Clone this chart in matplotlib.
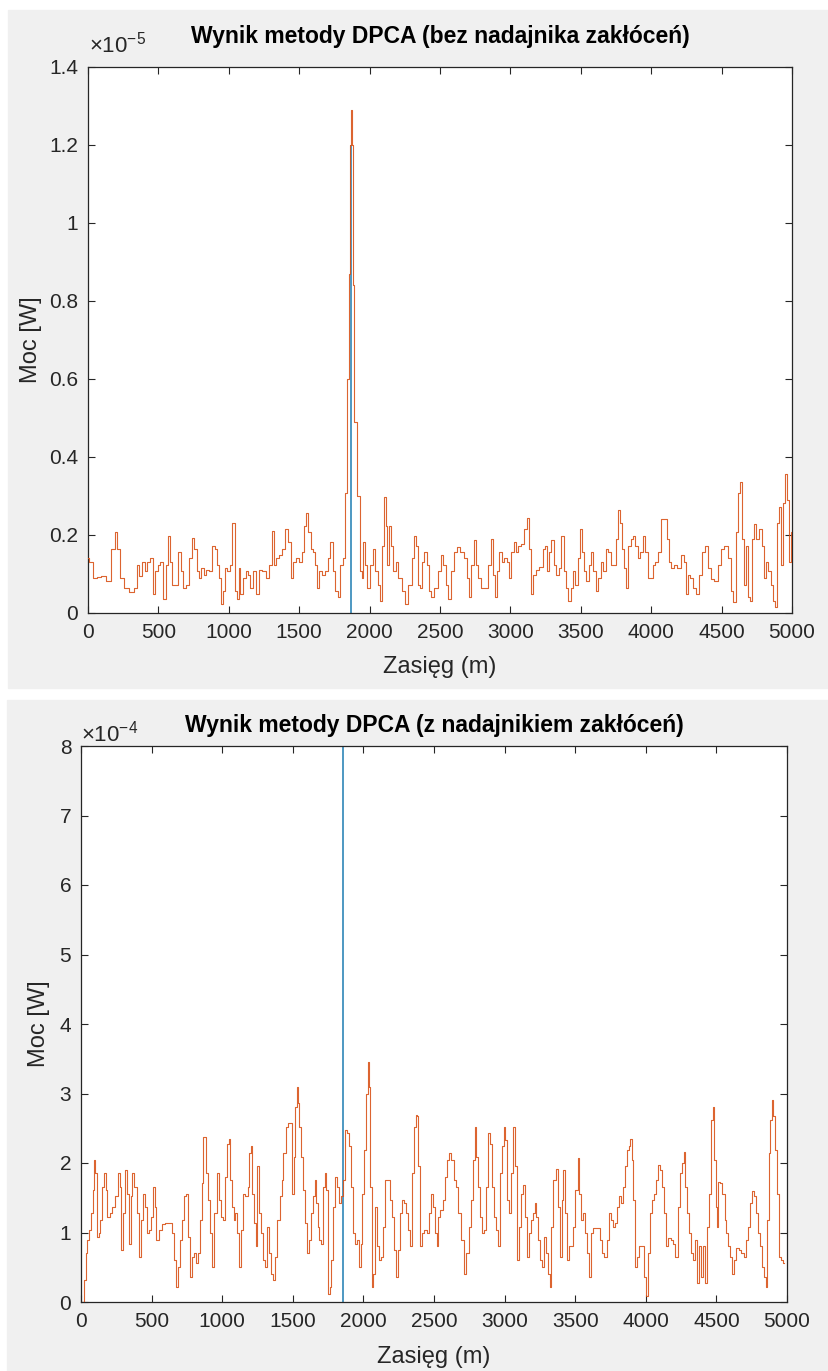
import matplotlib
matplotlib.use("Agg")
import matplotlib.pyplot as plt
from matplotlib.patches import Rectangle
from matplotlib.ticker import FuncFormatter

plt.rcParams['font.family'] = ['Liberation Sans', 'DejaVu Sans']
plt.rcParams['mathtext.fontset'] = 'custom'
plt.rcParams['mathtext.rm'] = 'Liberation Sans'
plt.rcParams['mathtext.it'] = 'Liberation Sans'

# --- top panel: without jammer (power in 1e-6 W) ---
top_range = [0, 15, 50, 80, 110, 145, 180, 198, 217, 240,
             276, 312, 335, 360, 371, 395, 412, 431, 455, 467,
             486, 502, 526, 543, 562, 576, 590, 605, 629, 648,
             669, 686, 705, 729, 748, 764, 781, 795, 812, 829,
             848, 867, 895, 907, 924, 938, 950, 967, 981, 998,
             1014, 1026, 1038, 1048, 1062, 1076, 1090, 1110, 1129, 1145,
             1162, 1181, 1205, 1219, 1252, 1276, 1300, 1312, 1329, 1348,
             1371, 1390, 1412, 1431, 1448, 1467, 1486, 1510, 1529, 1543,
             1557, 1574, 1590, 1610, 1621, 1633, 1652, 1669, 1693, 1710,
             1729, 1748, 1764, 1781, 1800, 1819, 1836, 1848, 1855, 1862,
             1870, 1878, 1885, 1900, 1922, 1938, 1948, 1962, 1979, 1990,
             2010, 2033, 2050, 2067, 2081, 2098, 2110, 2121, 2133, 2145,
             2162, 2176, 2193, 2217, 2240, 2264, 2288, 2312, 2324, 2336,
             2350, 2365, 2380, 2397, 2412, 2429, 2448, 2471, 2495, 2514,
             2531, 2548, 2567, 2586, 2610, 2633, 2657, 2681, 2698, 2714,
             2733, 2748, 2762, 2781, 2805, 2833, 2852, 2871, 2883, 2900,
             2914, 2929, 2948, 2967, 2983, 3000, 3014, 3031, 3048, 3067,
             3090, 3110, 3126, 3138, 3150, 3167, 3190, 3221, 3238, 3252,
             3267, 3281, 3300, 3317, 3333, 3352, 3371, 3386, 3400, 3419,
             3436, 3452, 3471, 3486, 3500, 3514, 3531, 3548, 3562, 3579,
             3595, 3614, 3633, 3650, 3667, 3686, 3705, 3721, 3738, 3757,
             3771, 3786, 3800, 3814, 3829, 3848, 3864, 3881, 3895, 3912,
             3929, 3948, 3967, 3983, 4000, 4019, 4038, 4055, 4079, 4102,
             4119, 4133, 4150, 4174, 4198, 4221, 4238, 4252, 4269, 4286,
             4305, 4329, 4352, 4376, 4395, 4412, 4436, 4460, 4483, 4507,
             4531, 4555, 4579, 4590, 4610, 4626, 4638, 4652, 4667, 4681,
             4695, 4710, 4721, 4738, 4757, 4776, 4793, 4805, 4824, 4840,
             4857, 4876, 4888, 4900, 4914, 4929, 4943, 4960, 4971, 4983,
             5000]
top_power = [1.4, 1.3, 0.9, 0.92, 0.95, 0.83, 1.65, 2.08, 1.65, 0.9,
             0.65, 0.55, 0.65, 1.23, 0.94, 1.32, 1.07, 1.3, 1.4, 0.48,
             1.07, 1.23, 1.32, 0.36, 1.23, 1.97, 1.32, 0.73, 0.73, 1.57,
             1.07, 0.65, 0.73, 1.4, 1.92, 1.65, 1.07, 0.9, 1.15, 0.98,
             1.1, 1.07, 1.73, 1.65, 1.23, 0.9, 0.23, 0.57, 1.15, 1.07,
             1.23, 2.32, 2.32, 0.57, 0.36, 1.15, 0.48, 0.9, 1.07, 0.98,
             0.65, 1.07, 0.48, 1.1, 1.07, 0.9, 1.23, 2.1, 1.23, 1.4,
             1.48, 1.65, 2.15, 1.82, 0.9, 1.32, 1.4, 1.32, 1.57, 2.23,
             2.57, 2.07, 1.65, 1.57, 1.23, 0.65, 1.07, 0.98, 1.07, 1.4,
             1.82, 1.07, 0.57, 0.4, 1.23, 1.4, 3.07, 6.0, 8.7, 12.0,
             12.9, 12.0, 8.4, 4.9, 3.0, 1.07, 0.9, 1.82, 1.23, 0.65,
             1.23, 1.65, 1.07, 0.73, 0.32, 1.73, 2.98, 2.23, 1.23, 2.23,
             1.73, 1.07, 1.32, 0.9, 0.57, 0.23, 0.73, 1.4, 1.98, 1.73,
             0.73, 0.65, 1.32, 1.57, 1.23, 0.57, 0.4, 0.65, 1.07, 1.48,
             1.23, 0.73, 0.36, 1.07, 1.57, 1.69, 1.57, 1.4, 0.9, 0.4,
             1.23, 1.86, 1.23, 0.9, 0.65, 0.65, 1.23, 1.9, 0.98, 0.4,
             1.07, 1.57, 1.32, 1.4, 1.32, 0.9, 1.57, 1.82, 1.57, 1.73,
             1.78, 2.15, 2.44, 1.65, 0.48, 0.98, 1.1, 1.19, 1.65, 1.73,
             1.07, 1.57, 1.86, 1.23, 0.98, 1.15, 1.98, 1.07, 0.65, 0.32,
             0.65, 1.07, 0.73, 1.4, 2.15, 1.57, 1.07, 0.82, 1.23, 1.57,
             1.07, 0.57, 0.9, 1.32, 1.07, 1.65, 1.57, 1.23, 1.23, 1.9,
             2.65, 2.32, 1.65, 1.15, 0.65, 1.73, 1.9, 1.98, 1.73, 1.4,
             1.57, 1.98, 1.57, 0.9, 0.9, 1.23, 1.32, 1.57, 2.4, 2.4,
             1.9, 1.32, 1.15, 1.23, 1.15, 1.48, 1.32, 0.48, 0.98, 0.9,
             0.65, 0.48, 0.98, 1.57, 1.73, 1.15, 0.86, 0.82, 1.23, 1.65,
             1.73, 1.4, 0.57, 0.27, 2.07, 3.07, 3.36, 1.9, 0.73, 1.73,
             0.4, 0.32, 1.9, 2.27, 1.9, 2.15, 1.73, 0.9, 1.32, 1.07,
             0.73, 0.32, 0.15, 2.32, 2.73, 1.23, 2.82, 3.57, 2.9, 1.32,
             2.07]
top_target = 1865      # m, marker line
top_target_peak = 12.0
top_yticks = [0, 0.2, 0.4, 0.6, 0.8, 1.0, 1.2, 1.4]   # x 1e-5

# --- bottom panel: with jammer (power in 1e-4 W) ---
bot_range = [0, 17, 29, 36, 50, 64, 76, 88, 95, 105,
             117, 131, 143, 155, 169, 179, 195, 212, 231, 250,
             267, 279, 288, 302, 317, 331, 345, 357, 369, 386,
             402, 421, 433, 445, 460, 474, 488, 505, 517, 529,
             540, 560, 583, 612, 640, 655, 664, 679, 693, 707,
             721, 738, 750, 762, 779, 793, 807, 821, 838, 850,
             862, 869, 881, 893, 907, 921, 936, 952, 969, 983,
             998, 1010, 1024, 1040, 1052, 1064, 1076, 1088, 1100, 1112,
             1126, 1140, 1155, 1171, 1188, 1198, 1207, 1219, 1231, 1243,
             1255, 1267, 1283, 1298, 1314, 1326, 1338, 1355, 1369, 1381,
             1398, 1414, 1426, 1440, 1457, 1474, 1488, 1498, 1512, 1521,
             1533, 1540, 1552, 1564, 1579, 1593, 1607, 1621, 1636, 1650,
             1660, 1671, 1683, 1695, 1707, 1719, 1731, 1743, 1755, 1767,
             1779, 1793, 1807, 1821, 1836, 1850, 1862, 1874, 1888, 1902,
             1917, 1931, 1945, 1960, 1974, 1988, 1998, 2012, 2026, 2036,
             2045, 2055, 2064, 2079, 2088, 2102, 2117, 2131, 2148, 2160,
             2179, 2193, 2207, 2221, 2236, 2250, 2264, 2279, 2293, 2307,
             2321, 2336, 2350, 2364, 2375, 2386, 2394, 2405, 2422, 2441,
             2457, 2474, 2488, 2500, 2512, 2524, 2535, 2552, 2569, 2583,
             2599, 2616, 2630, 2647, 2663, 2682, 2701, 2720, 2736, 2753,
             2767, 2781, 2796, 2805, 2819, 2833, 2848, 2862, 2876, 2890,
             2904, 2918, 2933, 2947, 2961, 2978, 2989, 2999, 3013, 3027,
             3041, 3056, 3070, 3080, 3093, 3108, 3122, 3136, 3150, 3164,
             3178, 3193, 3207, 3219, 3230, 3245, 3259, 3273, 3287, 3301,
             3316, 3325, 3339, 3353, 3368, 3382, 3396, 3410, 3422, 3434,
             3449, 3462, 3476, 3491, 3509, 3524, 3533, 3547, 3561, 3576,
             3590, 3604, 3618, 3632, 3651, 3670, 3684, 3698, 3717, 3732,
             3746, 3760, 3774, 3788, 3803, 3817, 3831, 3845, 3859, 3874,
             3883, 3897, 3906, 3918, 3930, 3944, 3959, 3978, 3992, 4006,
             4020, 4034, 4049, 4063, 4077, 4091, 4105, 4120, 4134, 4148,
             4167, 4186, 4200, 4219, 4233, 4248, 4261, 4276, 4285, 4299,
             4314, 4328, 4342, 4356, 4370, 4384, 4398, 4413, 4427, 4441,
             4456, 4470, 4480, 4489, 4499, 4507, 4521, 4535, 4550, 4565,
             4578, 4592, 4606, 4621, 4635, 4648, 4668, 4687, 4701, 4715,
             4729, 4743, 4757, 4771, 4786, 4800, 4814, 4828, 4843, 4857,
             4866, 4876, 4890, 4899, 4909, 4924, 4938, 4952, 4966, 4980]
bot_power = [0, 0, 0.32, 0.7, 0.89, 1.04, 1.28, 1.61, 2.04, 1.85,
             0.94, 0.99, 1.18, 1.66, 1.85, 1.61, 1.23, 1.28, 1.37, 1.52,
             1.85, 1.66, 0.75, 1.28, 1.9, 1.56, 0.84, 1.52, 1.85, 1.66,
             1.28, 0.65, 1.18, 1.56, 1.37, 0.99, 1.04, 1.23, 1.66, 1.37,
             0.89, 1.04, 1.12, 1.14, 1.14, 0.99, 0.6, 0.22, 0.51, 0.89,
             1.18, 1.52, 1.56, 0.94, 0.36, 0.65, 0.7, 0.56, 0.7, 1.18,
             1.71, 2.38, 2.38, 1.85, 1.47, 0.99, 0.51, 1.28, 1.85, 1.47,
             1.23, 1.18, 1.8, 2.28, 2.35, 1.76, 1.37, 1.18, 1.28, 0.99,
             0.51, 1.04, 1.56, 1.52, 1.66, 2.14, 2.24, 1.56, 1.13, 0.8,
             1.95, 1.28, 0.99, 0.6, 0.51, 1.08, 0.7, 0.41, 0.32, 0.65,
             1.18, 1.52, 1.76, 2.14, 2.52, 2.57, 2.57, 1.56, 2.09, 2.81,
             3.1, 2.86, 2.52, 2.09, 1.61, 1.13, 0.7, 0.89, 1.28, 1.52,
             1.76, 1.42, 1.08, 0.89, 0.84, 1.66, 1.85, 1.61, 0.12, 0.22,
             0.6, 1.37, 1.8, 1.66, 1.42, 1.52, 1.76, 2.47, 2.43, 2.24,
             1.66, 0.99, 0.84, 0.89, 0.51, 0.84, 1.56, 2.19, 3.0, 3.46,
             3.1, 1.66, 0.22, 0.41, 1.37, 0.8, 0.6, 0.65, 1.08, 1.76,
             1.76, 1.47, 1.23, 0.75, 0.36, 0.75, 1.28, 1.47, 1.42, 1.28,
             1.04, 0.8, 1.85, 2.52, 2.69, 2.67, 1.95, 0.8, 0.99, 1.04,
             0.99, 1.28, 1.56, 1.37, 0.99, 0.8, 1.23, 1.32, 1.47, 1.8,
             2.04, 2.14, 2.04, 1.76, 1.66, 1.28, 0.89, 0.41, 0.7, 1.08,
             1.47, 2.04, 2.52, 2.09, 1.66, 1.23, 0.99, 1.04, 1.66, 2.43,
             2.28, 1.66, 1.23, 1.04, 0.8, 1.85, 2.24, 2.52, 2.33, 1.47,
             1.28, 1.85, 2.52, 1.95, 0.6, 1.08, 1.56, 1.68, 1.23, 0.65,
             0.99, 1.18, 1.28, 1.42, 1.23, 0.89, 0.6, 0.51, 0.94, 0.7,
             0.41, 0.22, 1.08, 1.76, 1.92, 1.37, 0.65, 1.47, 1.9, 1.28,
             0.6, 0.8, 0.8, 1.08, 1.61, 2.07, 1.56, 1.18, 1.28, 0.99,
             0.7, 0.36, 0.99, 1.06, 1.06, 1.06, 0.89, 0.7, 0.65, 0.89,
             1.28, 1.18, 1.08, 1.13, 1.37, 1.52, 1.42, 1.66, 1.95, 2.19,
             2.24, 2.35, 2.04, 1.47, 0.51, 0.65, 0.8, 0.8, 0.36, 0.08,
             0.7, 1.28, 1.47, 1.56, 1.76, 1.97, 1.9, 1.66, 1.28, 0.8,
             0.92, 0.89, 0.84, 0.65, 1.37, 1.85, 2.0, 2.16, 1.66, 1.28,
             0.99, 0.7, 0.6, 0.89, 0.27, 0.8, 0.36, 0.8, 0.27, 1.08,
             1.56, 2.62, 2.81, 2.04, 1.37, 1.08, 1.73, 1.71, 1.56, 1.18,
             0.99, 0.8, 0.65, 0.41, 0.6, 0.77, 0.75, 0.7, 0.65, 0.89,
             1.08, 1.42, 1.59, 1.52, 1.28, 0.99, 0.8, 0.51, 0.36, 0.22,
             1.18, 2.14, 2.62, 2.91, 2.67, 2.19, 1.56, 0.65, 0.6, 0.56]
bot_target = 1858
bot_target_peak = 8.0
bot_yticks = [0, 1, 2, 3, 4, 5, 6, 7, 8]   # x 1e-4

assert len(top_range) == len(top_power)
assert len(bot_range) == len(bot_power)

ORANGE = '#D95319'
BLUE = '#2f86b8'
AXC = '#262626'
BG = '#f0f0f0'

W, H = 829, 1371
fig = plt.figure(figsize=(W / 100, H / 100), dpi=100, facecolor='white')

# gray MATLAB-like figure backgrounds for the two stacked screenshots
fig.add_artist(Rectangle((8 / W, 1 - 688 / H), 1, (688 - 10) / H,
                         transform=fig.transFigure, color=BG, zorder=-10))
fig.add_artist(Rectangle((7 / W, 0), 1, 1 - 700 / H,
                         transform=fig.transFigure, color=BG, zorder=-10))


def px_axes(l, t, r, b):
    return fig.add_axes([l / W, 1 - b / H, (r - l) / W, (b - t) / H])


def style(ax, yticks, mult):
    ax.set_xlim(0, 5000)
    ax.set_ylim(0, yticks[-1] * mult)
    ax.set_xticks(range(0, 5001, 500))
    ax.set_yticks([t * mult for t in yticks])
    ax.yaxis.set_major_formatter(FuncFormatter(lambda v, p: f"{v / mult:.10g}"))
    ax.tick_params(direction='in', length=5, width=0.8, colors=AXC,
                   labelsize=15, top=True, right=True, pad=7)
    for s in ax.spines.values():
        s.set_color(AXC)
        s.set_linewidth(0.9)
    ax.set_facecolor('white')


# top chart
ax1 = px_axes(88, 67, 792, 613)
ax1.vlines(top_target, 0, top_target_peak * 1e-6, color=BLUE, lw=1.2, zorder=2)
ax1.plot(top_range, [p * 1e-6 for p in top_power], color=ORANGE, lw=0.8,
         alpha=0.9, drawstyle='steps-mid', zorder=3)
style(ax1, top_yticks, 1e-5)
fig.text(440 / W, 1 - 37 / H, 'Wynik metody DPCA (bez nadajnika zakłóceń)',
         ha='center', va='center', fontsize=16.5, fontweight='bold')
fig.text(89 / W, 1 - 53 / H, r'$\times10^{-5}$', ha='left', va='baseline',
         fontsize=16, color=AXC)
fig.text(440 / W, 1 - 667 / H, 'Zasięg (m)', ha='center', va='center',
         fontsize=17, color=AXC)
fig.text(31 / W, 1 - 340 / H, 'Moc [W]', ha='center', va='center',
         rotation=90, fontsize=17, color=AXC)

# bottom chart
ax2 = px_axes(81, 746, 787, 1302)
ax2.vlines(bot_target, 0, bot_target_peak * 1e-4, color=BLUE, lw=1.2, zorder=2)
ax2.plot(bot_range, [p * 1e-4 for p in bot_power], color=ORANGE, lw=0.8,
         alpha=0.9, drawstyle='steps-mid', zorder=3)
style(ax2, bot_yticks, 1e-4)
fig.text(434 / W, 1 - 725 / H, 'Wynik metody DPCA (z nadajnikiem zakłóceń)',
         ha='center', va='center', fontsize=16.5, fontweight='bold')
fig.text(81 / W, 1 - 741 / H, r'$\times10^{-4}$', ha='left', va='baseline',
         fontsize=16, color=AXC)
fig.text(434 / W, 1 - 1357 / H, 'Zasięg (m)', ha='center', va='center',
         fontsize=17, color=AXC)
fig.text(39 / W, 1 - 1024 / H, 'Moc [W]', ha='center', va='center',
         rotation=90, fontsize=17, color=AXC)

fig.savefig('out.png', dpi=100, facecolor='white')
